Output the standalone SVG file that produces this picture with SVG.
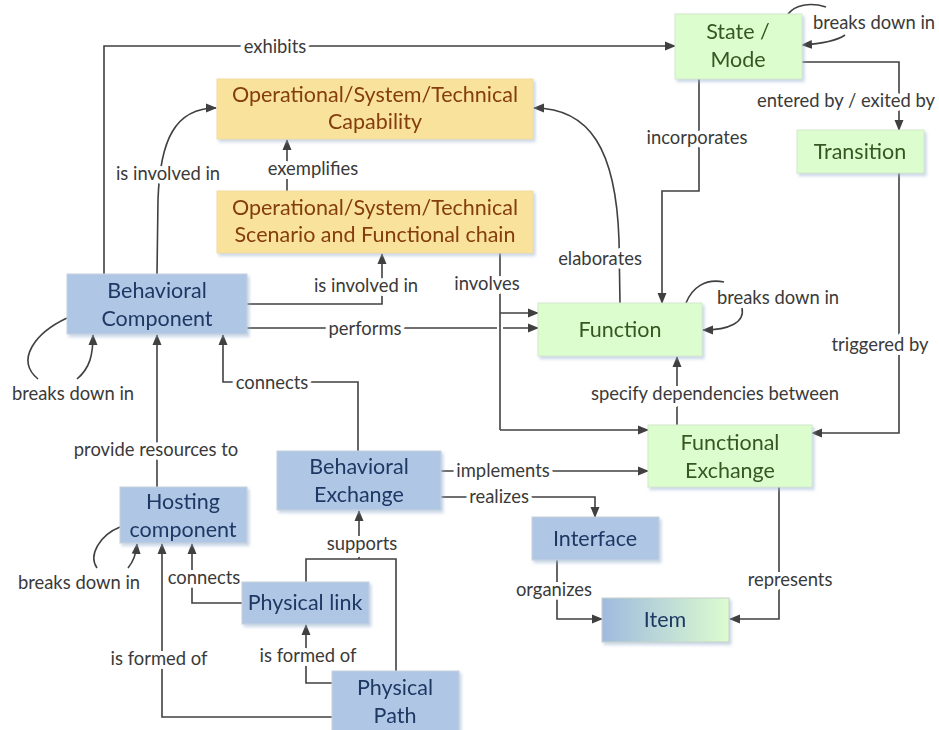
<svg xmlns="http://www.w3.org/2000/svg" width="939" height="730" viewBox="0 0 939 730">
<style>
.blue{fill:#afc7e5;stroke:#c8d2de;stroke-width:1}
.green{fill:#dcfdcd;stroke:#d4e8cc;stroke-width:1}
.yellow{fill:#f9e29c;stroke:#f0dca0;stroke-width:1}
.nt{font-family:Lato,"Liberation Sans",sans-serif;font-size:21.5px;text-anchor:middle;dominant-baseline:central}
.bt{fill:#1f3864}
.gt{fill:#375623}
.yt{fill:#843c0c}
.c{fill:none;stroke:#404040;stroke-width:1.6}
.a{marker-end:url(#arr)}
.lb{font-family:Lato,"Liberation Sans",sans-serif;font-size:18.4px;fill:#3a3a3a;text-anchor:middle;dominant-baseline:central;stroke:#fff;stroke-width:8;stroke-linejoin:round;paint-order:stroke}
</style>
<defs>
<marker id="arr" markerWidth="11" markerHeight="10" refX="10" refY="5" orient="auto" markerUnits="userSpaceOnUse">
<path d="M0,0.5 L11,5 L0,9.5 Z" fill="#404040"/>
</marker>
<filter id="sh" x="-10%" y="-10%" width="130%" height="140%">
<feDropShadow dx="2" dy="2.5" stdDeviation="1.5" flood-color="#9db4d3" flood-opacity="0.55"/>
</filter>
<linearGradient id="ig" x1="0" y1="0" x2="1" y2="0">
<stop offset="0" stop-color="#9fbadf"/>
<stop offset="1" stop-color="#dcfccf"/>
</linearGradient>
</defs>
<rect width="939" height="730" fill="#fff"/>

<g id="connectors">
<path class="c a" d="M104,274 L104,46 L675,46"/>
<path class="c a" d="M157,274 L158,200 C160,140 175,108 216,108"/>
<path class="c a" d="M287,191 L287,140"/>
<path class="c a" d="M247,304 L382,304 L382,254"/>
<path class="c" d="M247,328 L497,328"/>
<path class="c a" d="M503,328 L538,328"/>
<path class="c" d="M500,253 L500,430"/>
<path class="c a" d="M500,313 L538,313"/>
<path class="c a" d="M500,430 L648,430"/>
<path class="c a" d="M620,303 L619,240 C616,150 590,108 534,108"/>
<path class="c a" d="M699,79 L699,191 L662,191 L662,303"/>
<path class="c" d="M788,14 C795,5 810,2 826,7"/>
<path class="c a" d="M845,35 C835,42 818,44 802,45"/>
<path class="c a" d="M802,62 L899,62 L899,130"/>
<path class="c" d="M686,303 C692,288 705,278 724,282"/>
<path class="c a" d="M742,308 C745,322 730,330 703,330"/>
<path class="c a" d="M899,173 L899,433 L812,433"/>
<path class="c a" d="M677,425 L677,357"/>
<path class="c" d="M67,318 C35,333 15,360 38,379"/>
<path class="c a" d="M77,379 C90,368 93,355 93,335"/>
<path class="c a" d="M358,451 L358,382 L223,382 L223,335"/>
<path class="c a" d="M157,487 L157,335"/>
<path class="c a" d="M441,471 L648,471"/>
<path class="c a" d="M441,497 L595,497 L595,517"/>
<path class="c" d="M120,527 C100,535 88,555 97,568"/>
<path class="c a" d="M128,568 C133,562 136,556 137,544"/>
<path class="c a" d="M242,603 L192,603 L192,544"/>
<path class="c" d="M306,582 L306,559 L396,559 L396,671"/>
<path class="c a" d="M359,559 L359,511"/>
<path class="c a" d="M332,683 L306,683 L306,625"/>
<path class="c a" d="M332,717 L162,717 L162,544"/>
<path class="c a" d="M557,560 L557,619 L602,619"/>
<path class="c a" d="M779,487 L779,619 L730,619"/>

<g id="labels">
<text class="lb" x="275" y="46">exhibits</text>
<text class="lb" x="168" y="173">is involved in</text>
<text class="lb" x="313" y="168">exemplifies</text>
<text class="lb" x="366" y="285">is involved in</text>
<text class="lb" x="487" y="283">involves</text>
<text class="lb" x="365" y="328">performs</text>
<text class="lb" x="600" y="258">elaborates</text>
<text class="lb" x="697" y="137">incorporates</text>
<text class="lb" x="846" y="100">entered by / exited by</text>
<text class="lb" x="874" y="22">breaks down in</text>
<text class="lb" x="778" y="297">breaks down in</text>
<text class="lb" x="880" y="344">triggered by</text>
<text class="lb" x="715" y="393">specify dependencies between</text>
<text class="lb" x="73" y="393">breaks down in</text>
<text class="lb" x="272" y="382">connects</text>
<text class="lb" x="156" y="449">provide resources to</text>
<text class="lb" x="503" y="470">implements</text>
<text class="lb" x="499" y="496">realizes</text>
<text class="lb" x="79" y="582">breaks down in</text>
<text class="lb" x="204" y="577">connects</text>
<text class="lb" x="362" y="543">supports</text>
<text class="lb" x="308" y="655">is formed of</text>
<text class="lb" x="159" y="658">is formed of</text>
<text class="lb" x="554" y="589">organizes</text>
<text class="lb" x="790" y="579">represents</text>
</g>
</g>

<g id="capability" filter="url(#sh)">
<rect class="yellow" x="217" y="79" width="316" height="60"/>
<text class="nt yt" x="375" y="94">Operational/System/Technical</text>
<text class="nt yt" x="375" y="121">Capability</text>
</g>
<g id="scenario" filter="url(#sh)">
<rect class="yellow" x="217" y="191" width="316" height="62"/>
<text class="nt yt" x="375" y="207">Operational/System/Technical</text>
<text class="nt yt" x="375" y="234">Scenario and Functional chain</text>
</g>
<g id="state" filter="url(#sh)">
<rect class="green" x="675" y="14" width="127" height="65"/>
<text class="nt gt" x="738" y="31">State /</text>
<text class="nt gt" x="738" y="59">Mode</text>
</g>
<g id="transition" filter="url(#sh)">
<rect class="green" x="797" y="130" width="127" height="43"/>
<text class="nt gt" x="860" y="151">Transition</text>
</g>
<g id="function" filter="url(#sh)">
<rect class="green" x="538" y="303" width="164" height="53"/>
<text class="nt gt" x="620" y="329">Function</text>
</g>
<g id="functional-exchange" filter="url(#sh)">
<rect class="green" x="648" y="425" width="164" height="62"/>
<text class="nt gt" x="730" y="442">Functional</text>
<text class="nt gt" x="730" y="470">Exchange</text>
</g>
<g id="behavioral-component" filter="url(#sh)">
<rect class="blue" x="67" y="274" width="180" height="60"/>
<text class="nt bt" x="157" y="290">Behavioral</text>
<text class="nt bt" x="157" y="318">Component</text>
</g>
<g id="behavioral-exchange" filter="url(#sh)">
<rect class="blue" x="277" y="451" width="164" height="59"/>
<text class="nt bt" x="359" y="466">Behavioral</text>
<text class="nt bt" x="359" y="494">Exchange</text>
</g>
<g id="hosting-component" filter="url(#sh)">
<rect class="blue" x="120" y="487" width="127" height="56"/>
<text class="nt bt" x="183" y="501">Hosting</text>
<text class="nt bt" x="183" y="529">component</text>
</g>
<g id="physical-link" filter="url(#sh)">
<rect class="blue" x="242" y="582" width="127" height="42"/>
<text class="nt bt" x="305" y="602">Physical link</text>
</g>
<g id="physical-path" filter="url(#sh)">
<rect class="blue" x="332" y="671" width="127" height="62"/>
<text class="nt bt" x="395" y="687">Physical</text>
<text class="nt bt" x="395" y="715">Path</text>
</g>
<g id="interface" filter="url(#sh)">
<rect class="blue" x="532" y="517" width="127" height="43"/>
<text class="nt bt" x="595" y="538">Interface</text>
</g>
<g id="item" filter="url(#sh)">
<rect x="602" y="598" width="127" height="44" fill="url(#ig)" stroke="#c8d2c8" stroke-width="1"/>
<text class="nt bt" x="665" y="619">Item</text>
</g>
</svg>
